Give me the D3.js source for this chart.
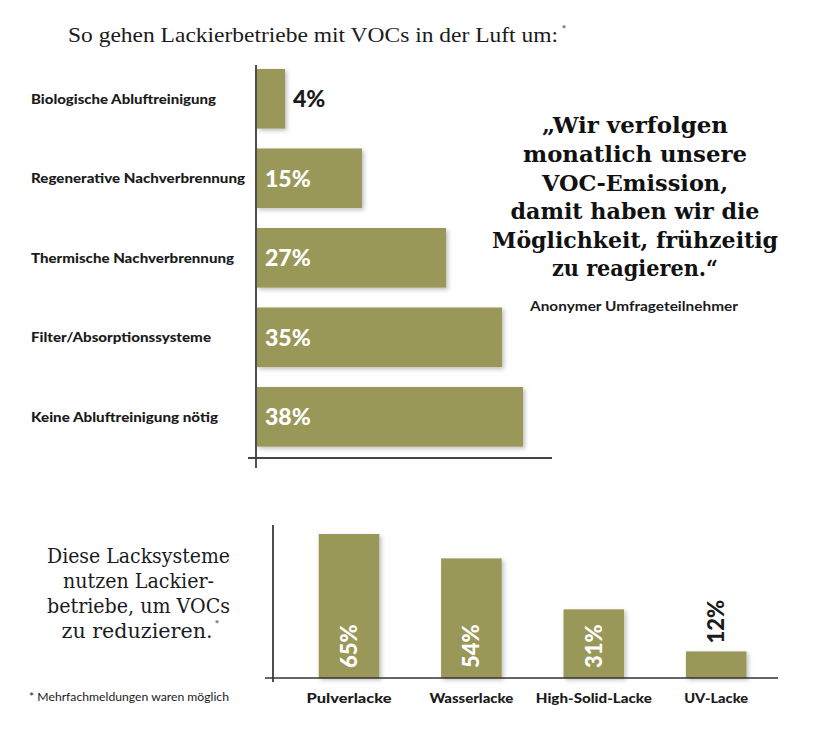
<!DOCTYPE html>
<html>
<head>
<meta charset="utf-8">
<script src="https://cdn.jsdelivr.net/npm/d3@7/dist/d3.min.js"></script>
<style>
  html, body { margin: 0; padding: 0; background: #fff; }
  svg { display: block; }
</style>
</head>
<body>
<svg id="chart" width="818" height="730"></svg>
<script>
// ---------- DATA ----------
const titleText = "So gehen Lackierbetriebe mit VOCs in der Luft um:";
const methodCategories = [
  "Biologische Abluftreinigung",
  "Regenerative Nachverbrennung",
  "Thermische Nachverbrennung",
  "Filter/Absorptionssysteme",
  "Keine Abluftreinigung nötig"
];
const methodValues = [4, 15, 27, 35, 38];

const systemCategories = ["Pulverlacke", "Wasserlacke", "High-Solid-Lacke", "UV-Lacke"];
const systemValues = [65, 54, 31, 12];

const quoteLines = [
  "„Wir verfolgen",
  "monatlich unsere",
  "VOC-Emission,",
  "damit haben wir die",
  "Möglichkeit, frühzeitig",
  "zu reagieren.“"
];
const quoteAuthor = "Anonymer Umfrageteilnehmer";
const sideTextLines = ["Diese Lacksysteme", "nutzen Lackier-", "betriebe, um VOCs", "zu reduzieren."];
const footnote = "* Mehrfachmeldungen waren möglich";

// ---------- STYLE ----------
const barColor = "#9a9859";
const ink = "#1b1b1b";
const sans = "Lato, 'Open Sans', sans-serif";
const serif = "'DejaVu Serif', 'Liberation Serif', serif";
const titleSerif = "'Liberation Serif', 'DejaVu Serif', serif";

const svg = d3.select("#chart");
const defs = svg.append("defs");
const f = defs.append("filter").attr("id", "shadow")
  .attr("x", "-10%").attr("y", "-10%").attr("width", "130%").attr("height", "130%");
f.append("feDropShadow").attr("dx", 2).attr("dy", 2).attr("stdDeviation", 2)
  .attr("flood-color", "#000").attr("flood-opacity", 0.25);

function fit(sel, w) {
  sel.attr("textLength", w).attr("lengthAdjust", "spacingAndGlyphs");
  return sel;
}

// ---------- TITLE ----------
fit(svg.append("text")
  .attr("x", 68).attr("y", 42)
  .attr("font-family", titleSerif).attr("font-size", 21.5)
  .attr("fill", ink).text(titleText), 490);
svg.append("text").attr("x", 562).attr("y", 31)
  .attr("font-family", serif).attr("font-size", 8).attr("fill", ink).text("*");

// ---------- TOP CHART (horizontal bars) ----------
const yTop = d3.scaleBand().domain(methodCategories)
  .range([61, 454.6]).paddingInner(0.25).paddingOuter(0.1);
const xTop = d3.scaleLinear().domain([0, 40]).range([257, 537]);

const gTop = svg.append("g");

gTop.selectAll("rect.bar").data(methodCategories).join("rect")
  .attr("class", "bar")
  .attr("x", xTop(0))
  .attr("y", d => yTop(d))
  .attr("width", (d, i) => xTop(methodValues[i]) - xTop(0))
  .attr("height", yTop.bandwidth())
  .attr("fill", barColor)
  .attr("filter", "url(#shadow)");

// category axis (labels left aligned)
const topLabelWidths = [185, 214, 203, 180, 187];
const yAxisTop = gTop.append("g")
  .attr("transform", `translate(${xTop(0) - 1},0)`)
  .call(d3.axisLeft(yTop).tickSize(0).tickPadding(0));
yAxisTop.select(".domain").remove();
yAxisTop.selectAll("text")
  .attr("text-anchor", "start")
  .attr("x", 31 - (xTop(0) - 1))
  .attr("dy", "0.35em")
  .attr("font-family", sans).attr("font-weight", 900).attr("font-size", 14)
  .attr("fill", ink)
  .each(function(d, i) { fit(d3.select(this), topLabelWidths[i]); });

// axis lines
gTop.append("line").attr("x1", 256).attr("x2", 256).attr("y1", 65).attr("y2", 468)
  .attr("stroke", "#222").attr("stroke-width", 1.6);
gTop.append("line").attr("x1", 248).attr("x2", 552).attr("y1", 458).attr("y2", 458)
  .attr("stroke", "#444").attr("stroke-width", 2);

// value labels
gTop.selectAll("text.val").data(methodCategories).join("text")
  .attr("class", "val")
  .attr("x", (d, i) => methodValues[i] < 8 ? xTop(methodValues[i]) + 8 : xTop(0) + 8)
  .attr("y", d => yTop(d) + yTop.bandwidth() / 2)
  .attr("dy", "0.36em")
  .attr("font-family", sans).attr("font-weight", 900).attr("font-size", 23)
  .attr("fill", (d, i) => methodValues[i] < 8 ? ink : "#fff")
  .text((d, i) => methodValues[i] + "%");

// ---------- QUOTE ----------
const quoteWidths = [186, 224, 186, 249, 286, 166];
const qBase = [133, 162, 191, 219, 248, 276];
const quote = svg.append("g");
quote.selectAll("text").data(quoteLines).join("text")
  .attr("x", 635).attr("y", (d, i) => qBase[i])
  .attr("text-anchor", "middle")
  .attr("font-family", serif).attr("font-weight", 700).attr("font-size", 22.5)
  .attr("fill", "#111")
  .text(d => d)
  .each(function(d, i) { fit(d3.select(this), quoteWidths[i]); });
fit(quote.append("text").attr("x", 634).attr("y", 311)
  .attr("text-anchor", "middle")
  .attr("font-family", sans).attr("font-weight", 700).attr("font-size", 12.5)
  .attr("fill", ink).text(quoteAuthor), 208);

// ---------- BOTTOM CHART (vertical bars) ----------
const xBot = d3.scaleBand().domain(systemCategories)
  .range([282, 783.2]).paddingInner(0.505).paddingOuter(0.3);
const yBot = d3.scaleLinear().domain([0, 100]).range([678, 456.5]);

const gBot = svg.append("g");
gBot.selectAll("rect.bar").data(systemCategories).join("rect")
  .attr("class", "bar")
  .attr("x", d => xBot(d))
  .attr("y", (d, i) => yBot(systemValues[i]))
  .attr("width", xBot.bandwidth())
  .attr("height", (d, i) => yBot(0) - yBot(systemValues[i]))
  .attr("fill", barColor)
  .attr("filter", "url(#shadow)");

gBot.append("line").attr("x1", 273).attr("x2", 273).attr("y1", 525).attr("y2", 682)
  .attr("stroke", "#222").attr("stroke-width", 1.6);
gBot.append("line").attr("x1", 265).attr("x2", 778).attr("y1", 678).attr("y2", 678)
  .attr("stroke", "#333").attr("stroke-width", 1.6);

const botLabelWidths = [85, 84, 116, 64];
const xAxisBot = gBot.append("g")
  .attr("transform", `translate(0,${yBot(0)})`)
  .call(d3.axisBottom(xBot).tickSize(0).tickPadding(0));
xAxisBot.select(".domain").remove();
xAxisBot.selectAll("text")
  .attr("y", 25).attr("dy", 0)
  .attr("font-family", sans).attr("font-weight", 900).attr("font-size", 14)
  .attr("fill", ink)
  .each(function(d, i) { fit(d3.select(this), botLabelWidths[i]); });

// rotated value labels
gBot.selectAll("text.val").data(systemCategories).join("text")
  .attr("class", "val")
  .attr("transform", (d, i) => {
    const cx = xBot(d) + xBot.bandwidth() / 2;
    const inside = systemValues[i] >= 20;
    const y0 = inside ? yBot(0) - 10 : yBot(systemValues[i]) - 8;
    return `translate(${cx},${y0}) rotate(-90)`;
  })
  .attr("dy", "0.36em")
  .attr("text-anchor", "start")
  .attr("font-family", sans).attr("font-weight", 900).attr("font-size", 22)
  .attr("fill", (d, i) => systemValues[i] >= 20 ? "#fff" : ink)
  .text((d, i) => systemValues[i] + "%");

// ---------- SIDE TEXT + FOOTNOTE ----------
const sideWidths = [183, 151, 183, 151];
const side = svg.append("g");
side.selectAll("text").data(sideTextLines).join("text")
  .attr("x", (d, i) => i === 3 ? 137 : 138.5)
  .attr("y", (d, i) => 563 + i * 25)
  .attr("text-anchor", "middle")
  .attr("font-family", serif).attr("font-size", 20)
  .attr("fill", "#1a1a22")
  .text(d => d)
  .each(function(d, i) { fit(d3.select(this), sideWidths[i]); });
side.append("text").attr("x", 215).attr("y", 626)
  .attr("font-family", serif).attr("font-size", 8).attr("fill", ink).text("*");

fit(svg.append("text").attr("x", 29).attr("y", 701)
  .attr("font-family", sans).attr("font-size", 10.5)
  .attr("fill", ink).text(footnote), 200);
</script>
</body>
</html>
